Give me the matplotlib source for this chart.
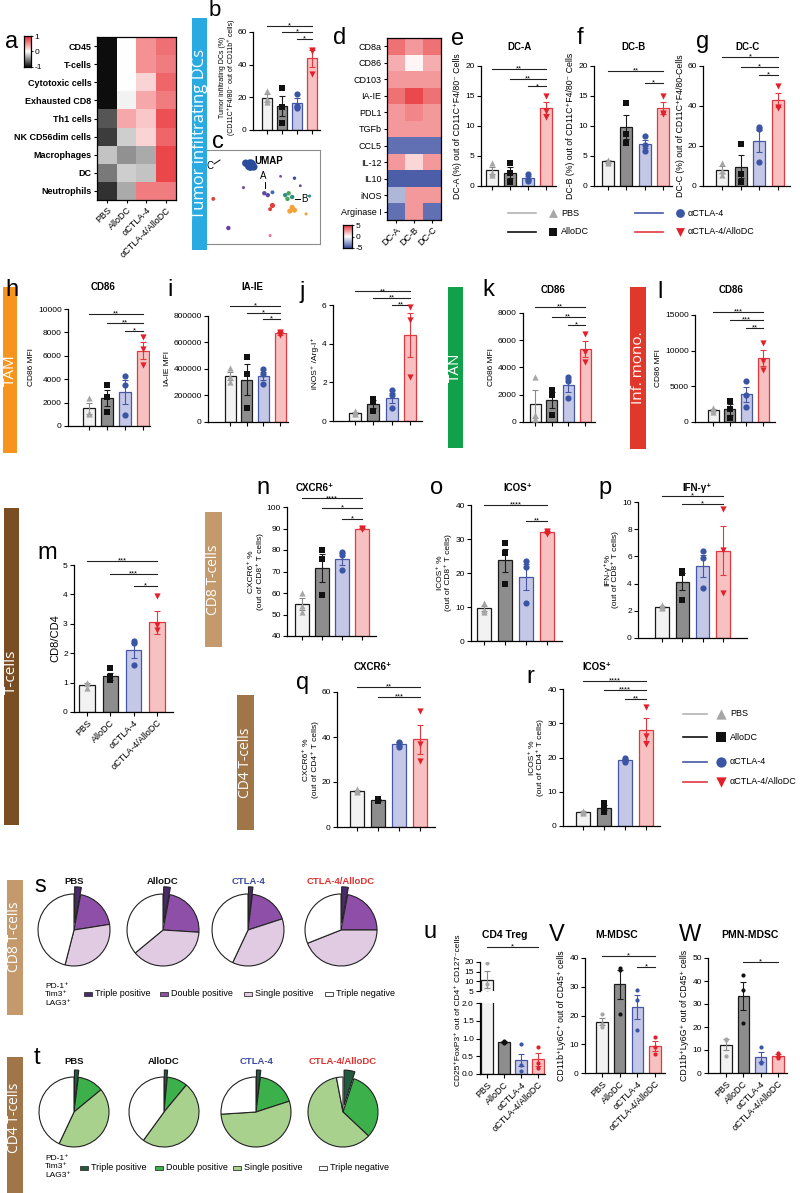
import numpy as np
import matplotlib
matplotlib.use("Agg")
import matplotlib.pyplot as plt
from matplotlib.patches import Rectangle
from matplotlib.colors import LinearSegmentedColormap

plt.rcParams['font.family'] = ['Liberation Sans', 'DejaVu Sans']
plt.rcParams['axes.linewidth'] = 0.9

# ======================= DATA =======================
GROUPS = ["PBS", "AlloDC", "αCTLA-4", "αCTLA-4/AlloDC"]

HEAT_A_ROWS = ["CD45", "T-cells", "Cytotoxic cells", "Exhausted CD8", "Th1 cells",
               "NK CD56dim cells", "Macrophages", "DC", "Neutrophils"]
HEAT_A = [[-1.0, 0.0, 0.5, 0.65],
          [-1.0, 0.0, 0.5, 0.6],
          [-1.0, 0.0, 0.2, 0.7],
          [-1.0, -0.05, 0.4, 0.6],
          [-0.7, 0.4, 0.25, 0.8],
          [-0.8, -0.2, 0.2, 0.7],
          [-0.25, -0.45, -0.35, 0.85],
          [-0.55, -0.2, -0.25, 0.85],
          [-0.85, -0.35, 0.6, 0.6]]

HEAT_D_ROWS = ["CD8a", "CD86", "CD103", "IA-IE", "PDL1", "TGFb", "CCL5", "IL-12",
               "IL10", "iNOS", "Arginase I"]
HEAT_D_COLS = ["DC-A", "DC-B", "DC-C"]
HEAT_D = [[3.5, 2.5, 3.5],
          [2.0, 0.2, 2.0],
          [2.5, 2.5, 2.5],
          [3.5, 4.5, 3.5],
          [2.5, 3.0, 2.5],
          [2.5, 2.5, 2.5],
          [-4.0, -4.0, -4.0],
          [2.5, 1.0, 2.5],
          [-4.5, -4.5, -4.5],
          [-2.0, 2.5, 2.5],
          [-4.0, 2.5, -4.0]]

UMAP_X = [4.0, 3.6, 4.3, 5.2, 5.5, 5.9, 5.9, 5.7, 7.0, 7.3, 7.6, 7.2, 7.6, 7.8, 7.4,
          7.8, 8.3, 6.6, 9.1, 8.8, 3.4, 0.8, 2.1, 5.7]
UMAP_Y = [8.4, 8.6, 8.2, 5.4, 5.2, 5.5, 4.1, 3.7, 5.2, 5.4, 5.0, 4.8, 3.9, 3.6, 3.5,
          7.0, 6.2, 7.2, 5.1, 3.2, 6.0, 4.8, 1.7, 0.9]
UMAP_S = [70, 28, 28, 10, 10, 8, 14, 8, 10, 10, 10, 10, 14, 14, 14,
          6, 4, 4, 5, 5, 5, 8, 10, 5]
UMAP_C = ["#2a4d9b", "#2a4d9b", "#2a4d9b", "#5b4aa0", "#5b4aa0", "#3b6fb5", "#e0403c",
          "#e0403c", "#2f8f83", "#4aa35a", "#2f8f83", "#4aa35a", "#f2a33a", "#f2a33a",
          "#f2a33a", "#3a4da0", "#5b4aa0", "#7a4aa8", "#2f8f83", "#f2a33a", "#7a4aa8",
          "#d9443c", "#6b3fa0", "#e07aa0"]

B_MEAN = [19.6, 14.7, 16.8, 43.8]
B_SEM = [2.2, 6.2, 2.6, 5.0]
B_PTS = [[24, 19, 17], [25.5, 14, 4.3], [22, 15, 13.5], [49, 48.5, 34]]
B_SIG = [(0, 3, 63.5, "*"), (1, 3, 60, "*"), (2, 3, 56, "*")]

E_MEAN = [2.6, 2.2, 1.3, 13.0]
E_SEM = [0.6, 0.9, 0.35, 1.0]
E_PTS = [[3.8, 2.2, 1.8], [3.9, 2.1, 0.7], [2.0, 1.2, 0.8], [15, 12.5, 11.5]]
E_SIG = [(0, 3, 19.5, "**"), (1, 3, 17.8, "**"), (2, 3, 16.6, "*")]

F_MEAN = [4.1, 9.9, 7.0, 13.0]
F_SEM = [0.2, 2.0, 0.7, 1.0]
F_PTS = [[4.4, 4.0, 3.8], [13.8, 8.7, 7.2], [8.3, 6.9, 5.9], [15, 12.2, 12]]
F_SIG = [(0, 3, 19.2, "**"), (2, 3, 17.2, "*")]

G_MEAN = [8.2, 9.7, 22.5, 42.8]
G_SEM = [1.8, 5.7, 5.5, 3.5]
G_PTS = [[11.5, 7.5, 5.5], [21, 6, 2], [29.5, 28.5, 12], [50, 39.5, 39]]
G_SIG = [(0, 3, 64.5, "*"), (1, 3, 59.5, "*"), (2, 3, 55.5, "*")]

H_MEAN = [1500, 2400, 2900, 6450]
H_SEM = [450, 650, 1000, 700]
H_PTS = [[2400, 1100, 1000], [3500, 2500, 1200], [4300, 3500, 950], [7600, 6550, 5200]]
H_SIG = [(0, 3, 9600, "**"), (1, 3, 8800, "**"), (2, 3, 8100, "*")]

I_MEAN = [350000, 320000, 350000, 668000]
I_SEM = [30000, 115000, 30000, 8000]
I_PTS = [[405000, 340000, 305000], [490000, 360000, 105000],
         [400000, 360000, 290000], [680000, 668000, 656000]]
I_SIG = [(0, 3, 875000, "*"), (1, 3, 823000, "*"), (2, 3, 777000, "*")]

J_MEAN = [0.42, 0.88, 1.2, 4.45]
J_SEM = [0.05, 0.2, 0.27, 1.15]
J_PTS = [[0.5, 0.4, 0.35], [1.15, 1.0, 0.5], [1.6, 1.35, 0.65], [5.9, 5.2, 2.3]]
J_SIG = [(0, 3, 6.7, "**"), (1, 3, 6.35, "**"), (2, 3, 6.0, "**")]

K_MEAN = [1330, 1610, 2680, 5350]
K_SEM = [1000, 560, 470, 600]
K_PTS = [[3300, 500, 200], [2350, 1980, 510], [3280, 3000, 1760], [6460, 5160, 4430]]
K_SIG = [(0, 3, 8450, "**"), (1, 3, 7700, "**"), (2, 3, 7100, "*")]

L_MEAN = [1700, 1780, 3870, 8960]
L_SEM = [180, 750, 1100, 1100]
L_PTS = [[2000, 1680, 1450], [3000, 1800, 500], [5750, 3790, 2060], [11030, 8550, 7290]]
L_SIG = [(0, 3, 15400, "***"), (1, 3, 14300, "***"), (2, 3, 13200, "**")]

M_MEAN = [0.93, 1.22, 2.1, 3.05]
M_SEM = [0.06, 0.12, 0.25, 0.4]
M_PTS = [[1.0, 1.0, 0.8], [1.5, 1.2, 1.1], [2.4, 2.35, 1.6], [3.95, 2.95, 2.8]]
M_SIG = [(0, 3, 5.15, "***"), (1, 3, 4.7, "***"), (2, 3, 4.3, "*")]

N_MEAN = [55.0, 71.6, 75.8, 90.0]
N_SEM = [2.7, 6.5, 2.6, 0.2]
N_PTS = [[60, 54, 51], [80, 76, 59], [79, 77.7, 70.7], [90.2, 90, 89.8]]
N_SIG = [(0, 3, 104, "****"), (1, 3, 99.5, "*"), (2, 3, 94.3, "*")]

O_MEAN = [9.6, 23.7, 18.9, 32.0]
O_SEM = [0.8, 3.5, 3.8, 0.3]
O_PTS = [[11.1, 9.1, 8.6], [28.7, 25.8, 16.7], [23.6, 21.7, 11.3], [32.4, 32, 31.5]]
O_SIG = [(0, 3, 40, "****"), (2, 3, 35.4, "**")]

P_MEAN = [2.3, 4.15, 5.3, 6.4]
P_SEM = [0.07, 0.65, 0.8, 1.8]
P_PTS = [[2.4, 2.3, 2.2], [4.9, 4.75, 2.8], [6.4, 5.9, 3.7], [9.5, 6.5, 3.3]]
P_SIG = [(0, 3, 10.45, "*"), (1, 3, 9.85, "*")]

Q_MEAN = [16.0, 12.0, 36.8, 39.0]
Q_SEM = [0.4, 0.25, 0.8, 6.4]
Q_PTS = [[17.0, 16.0, 15.5], [12.3, 12.0, 11.6], [38, 37, 35.5], [51.5, 37, 29.5]]
Q_SIG = [(0, 3, 62.2, "**"), (1, 3, 57.8, "***")]

R_MEAN = [4.2, 5.3, 19.3, 28.1]
R_SEM = [0.2, 0.7, 0.35, 3.3]
R_PTS = [[4.5, 4.2, 3.9], [6.6, 5.2, 4.2], [19.9, 19.3, 18.7], [34.7, 26.3, 24]]
R_SIG = [(0, 3, 42.4, "****"), (1, 3, 39.7, "****"), (2, 3, 37, "**")]

U_MEAN = [10.7, 0.9, 0.39, 0.41]
U_SEM = [4.4, 0.02, 0.16, 0.18]
U_PTS = [[19.3, 8.8, 4.0], [0.93, 0.9, 0.87], [0.85, 0.25, 0.08], [0.75, 0.3, 0.17]]
U_SIG = [(0, 3, 27.8, "*")]

V_MEAN = [17.8, 30.8, 23.1, 9.4]
V_SEM = [1.2, 5.1, 4.2, 1.7]
V_PTS = [[20.5, 17, 16], [36.4, 35.8, 20.4], [29, 25.3, 15], [12.4, 9.2, 6.6]]
V_SIG = [(0, 3, 40.7, "*"), (2, 3, 37, "*")]

W_MEAN = [12.2, 33.5, 6.9, 7.5]
W_SEM = [2.4, 6.1, 2.3, 0.6]
W_PTS = [[14.8, 14.4, 7.5], [42.6, 36.1, 21.9], [11.4, 4.9, 4.4], [8.6, 7.4, 6.4]]
W_SIG = [(1, 3, 48.4, "*")]

PIE_TITLES = ["PBS", "AlloDC", "CTLA-4", "CTLA-4/AlloDC"]
PIE_LABELS = ["Triple positive", "Double positive", "Single positive", "Triple negative"]
S_PBS = [3, 19.5, 31.5, 46]
S_ALLO = [3, 23, 38, 36]
S_CTLA = [2, 18, 37, 43]
S_COMBO = [3, 22, 44, 31]
T_PBS = [2, 12, 43, 43]
T_ALLO = [1.5, 9.5, 49, 40]
T_CTLA = [2, 18, 54, 26]
T_COMBO = [5, 32, 60, 3]

# ======================= STYLE =======================
FACE = ['#f2f2f2', '#8d8d8d', '#c4c7e6', '#f7c1c1']
EDGE = ['#1a1a1a', '#1a1a1a', '#4657a6', '#e2383f']
ERRC = ['#8a8a8a', '#1a1a1a', '#4657a6', '#e2383f']
PTC = ['#a6a6a6', '#111111', '#3b55a5', '#e3202a']
MARKS = ['^', 's', 'o', 'v']
S_COLORS = ['#4b2a6b', '#8e4fa8', '#e0cbe2', '#ffffff']
T_COLORS = ['#215a3c', '#3cb04a', '#a9d18e', '#ffffff']
TITLE_COLORS = ['#111111', '#111111', '#3d4ba0', '#e0302f']

W, H = 800, 1193
fig = plt.figure(figsize=(W / 100, H / 100), dpi=100)
fig.patch.set_facecolor('white')


def add_ax(x0, y0, x1, y1, **kw):
    return fig.add_axes([x0 / W, 1 - y1 / H, (x1 - x0) / W, (y1 - y0) / H], **kw)


ov = add_ax(0, 0, W, H, zorder=10)
ov.set_xlim(0, W)
ov.set_ylim(H, 0)
ov.axis('off')


def sidebar(x0, y0, x1, y1, color, label, fs=11, ty=None):
    ov.add_patch(Rectangle((x0, y0), x1 - x0, y1 - y0, color=color, lw=0))
    ov.text((x0 + x1) / 2, (y0 + y1) / 2 if ty is None else ty, label, rotation=90,
            ha='center', va='center', color='white', fontsize=fs,
            family=['Open Sans', 'DejaVu Sans'])


def letter(x, y, s, fs=17):
    ov.text(x, y, s, fontsize=fs, ha='center', va='center')


def title(x, y, s, fs=7):
    ov.text(x, y, s, fontsize=fs, fontweight='bold', ha='center', va='center')


def style_ax(ax):
    ax.spines[['top', 'right']].set_visible(False)
    ax.tick_params(labelsize=6, length=3, width=0.8, pad=1.5)


def bar_panel(axis_x, x_end, bar0, bar3, y_top, y_bot, ylim, yticks, mean, sem, pts, sig,
              marks=MARKS, msize=20, ylabel=None, xlabels=False, ytl=None, ylfs=6):
    s = (bar3 - bar0) / 3.0
    ax = add_ax(axis_x, y_top, x_end, y_bot)
    ax.set_xlim(-(bar0 - axis_x) / s, 3 + (x_end - bar3) / s)
    ax.set_ylim(*ylim)
    x = np.arange(4)
    ax.bar(x, mean, width=0.66, color=FACE, edgecolor=EDGE, linewidth=0.9, zorder=1)
    for i in range(4):
        ax.errorbar(i, mean[i], yerr=sem[i], fmt='none', ecolor=ERRC[i], elinewidth=0.8,
                    capsize=2.2, capthick=0.8, zorder=3)
        ax.scatter(np.full(len(pts[i]), i), pts[i], marker=marks[i], s=msize, color=PTC[i],
                   zorder=4, linewidths=0, clip_on=False)
    for (a, b, y, lab) in sig:
        ax.plot([a, b], [y, y], color='#222222', lw=0.8, clip_on=False)
        ax.text((a + b) / 2, y, lab, ha='center', va='center', fontsize=5.5, clip_on=False)
    style_ax(ax)
    ax.set_yticks(yticks)
    if ytl is not None:
        ax.set_yticklabels(ytl)
    ax.set_xticks(x)
    if xlabels:
        ax.set_xticklabels(GROUPS, rotation=45, ha='right', rotation_mode='anchor', fontsize=6.5)
    else:
        ax.set_xticklabels([])
    if ylabel:
        ax.set_ylabel(ylabel, fontsize=ylfs, labelpad=2, linespacing=1.1)
    return ax


# ======================= ROW 1 =======================
cmap_a = LinearSegmentedColormap.from_list('bwr_a', ['#0d0d0d', '#ffffff', '#e8262b'])
axa = add_ax(97, 37, 176, 200)
axa.imshow(np.array(HEAT_A), cmap=cmap_a, vmin=-1, vmax=1, aspect='auto', interpolation='nearest')
axa.set_yticks(range(len(HEAT_A_ROWS)))
axa.set_yticklabels(HEAT_A_ROWS, fontsize=6.5, fontweight='bold')
axa.set_xticks(range(4))
axa.set_xticklabels(GROUPS, rotation=45, ha='right', rotation_mode='anchor', fontsize=6.5)
axa.tick_params(length=2.5, width=0.8, pad=1.5)
cba = add_ax(24, 36, 31, 67)
cba.imshow(np.linspace(1, -1, 100)[:, None], cmap=cmap_a, vmin=-1, vmax=1, aspect='auto')
cba.set_xticks([])
cba.set_yticks([0, 49.5, 99])
cba.set_yticklabels(['1', '0', '-1'], fontsize=6)
cba.yaxis.tick_right()
cba.tick_params(length=1.5, width=0.6, pad=1)
letter(12, 42, 'a')

sidebar(192, 18, 207, 250, '#29abe2', 'Tumor infiltrating DCs', fs=12)

axb = bar_panel(253, 320, 267, 312, 32, 130, (0, 60), [0, 20, 40, 60], B_MEAN, B_SEM, B_PTS,
                B_SIG, ylabel="Tumor infiltrating DCs (%)\n(CD11C⁺F4/80⁻ out of CD11b⁺ cells)",
                ylfs=5.0)
axb.yaxis.label.set_y(0.54)
letter(215, 11, 'b', fs=16)

axc = add_ax(204, 150, 320, 244)
axc.scatter(UMAP_X, UMAP_Y, s=UMAP_S, c=UMAP_C, linewidths=0)
axc.set_xlim(0, 10)
axc.set_ylim(0, 10)
axc.set_xticks([])
axc.set_yticks([])
for sp in axc.spines.values():
    sp.set_color('#8c8c8c')
    sp.set_linewidth(0.8)
letter(218, 142, 'c')
ov.text(254, 161, 'UMAP', fontsize=7, fontweight='bold', va='center')
ov.text(210, 166, 'C', fontsize=7, ha='center', va='center')
ov.plot([214, 220], [164, 160], color='k', lw=0.7)
ov.text(263, 176, 'A', fontsize=7, ha='center', va='center')
ov.plot([265, 265], [182, 188], color='k', lw=0.7)
ov.text(304, 199, 'B', fontsize=7, ha='center', va='center')
ov.plot([295, 300], [199, 199], color='k', lw=0.7)

cmap_d = LinearSegmentedColormap.from_list('bwr_d', ['#3a4ea0', '#ffffff', '#e8353a'])
axd = add_ax(387, 38, 441, 220)
axd.imshow(np.array(HEAT_D), cmap=cmap_d, vmin=-5, vmax=5, aspect='auto', interpolation='nearest')
axd.set_yticks(range(len(HEAT_D_ROWS)))
axd.set_yticklabels(HEAT_D_ROWS, fontsize=6.5)
axd.set_xticks(range(3))
axd.set_xticklabels(HEAT_D_COLS, rotation=45, ha='right', rotation_mode='anchor', fontsize=6.5)
axd.tick_params(length=2.5, width=0.8, pad=1.5)
cbd = add_ax(343, 225, 352, 248)
cbd.imshow(np.linspace(5, -5, 100)[:, None], cmap=cmap_d, vmin=-5, vmax=5, aspect='auto')
cbd.set_xticks([])
cbd.set_yticks([0, 49.5, 99])
cbd.set_yticklabels(['5', '0', '-5'], fontsize=6)
cbd.yaxis.tick_right()
cbd.tick_params(length=1.5, width=0.6, pad=1)
letter(340, 38, 'd')

bar_panel(481, 556, 492, 546, 66, 186, (0, 20), [0, 5, 10, 15, 20], E_MEAN, E_SEM, E_PTS, E_SIG,
          ylabel="DC-A (%) out of CD11C⁺F4/80⁻ Cells", ylfs=6.3)
title(520, 47, 'DC-A')
letter(458, 39, 'e')
bar_panel(594, 672, 608, 663, 66, 186, (0, 20), [0, 5, 10, 15, 20], F_MEAN, F_SEM, F_PTS, F_SIG,
          ylabel="DC-B (%) out of CD11C⁺F4/80⁻ Cells", ylfs=6.3)
title(633, 47, 'DC-B')
letter(580, 38, 'f')
bar_panel(703, 790, 722, 778, 66, 186, (0, 60), [0, 20, 40, 60], G_MEAN, G_SEM, G_PTS, G_SIG,
          ylabel="DC-C (%) out of CD11C⁺F4/80-Cells", ylfs=6.3)
title(748, 47, 'DC-C')
letter(703, 42, 'g')

# top legend
LEG_LINE = ['#b3b3b3', '#111111', '#4657a6', '#e2383f']
for i, (lx, ly) in enumerate([(508, 213), (508, 232), (635, 213), (635, 232)]):
    ov.plot([lx, lx + 28], [ly, ly], color=LEG_LINE[i], lw=1.2)
    ov.scatter([lx + 45], [ly], marker=MARKS[i], s=40, color=PTC[i], linewidths=0)
    ov.text(lx + 53, ly, GROUPS[i], fontsize=6.5, va='center')

# ======================= ROW 2 =======================
sidebar(3, 287, 17, 453, '#f7941d', 'TAM', fs=11)
bar_panel(68, 150, 89, 143, 309, 426, (0, 10000), [0, 2000, 4000, 6000, 8000, 10000],
          H_MEAN, H_SEM, H_PTS, H_SIG, ylabel="CD86 MFI")
title(103, 287, 'CD86')
letter(12, 290, 'h')
bar_panel(208, 288, 230, 280, 316, 422, (0, 800000), [0, 200000, 400000, 600000, 800000],
          I_MEAN, I_SEM, I_PTS, I_SIG, ylabel="IA-IE MFI",
          ytl=['0', '200000', '400000', '600000', '800000'])
title(252, 287, 'IA-IE')
letter(170, 290, 'i')
bar_panel(333, 422, 355, 410, 305, 421, (0, 6), [0, 2, 4, 6], J_MEAN, J_SEM, J_PTS, J_SIG,
          ylabel="iNOS⁺ /Arg-I⁺")
letter(302, 292, 'j')

sidebar(448, 287, 463, 448, '#12a14b', 'TAN', fs=11)
bar_panel(523, 595, 535, 585, 313, 422, (0, 8000), [0, 2000, 4000, 6000, 8000],
          K_MEAN, K_SEM, K_PTS, K_SIG, ylabel="CD86 MFI")
title(553, 290, 'CD86')
letter(488, 290, 'k')

sidebar(630, 287, 646, 449, '#e0392b', 'Inf. mono.', fs=11)
bar_panel(695, 775, 713, 763, 315, 422, (0, 15000), [0, 5000, 10000, 15000],
          L_MEAN, L_SEM, L_PTS, L_SIG, ylabel="CD86 MFI")
title(731, 290, 'CD86')
letter(660, 292, 'l')

# ======================= ROW 3 =======================
sidebar(4, 508, 19, 825, '#7a4e22', 'T-cells', fs=11, ty=672)
bar_panel(74, 173, 87, 157, 565, 712, (0, 5), [0, 1, 2, 3, 4, 5], M_MEAN, M_SEM, M_PTS, M_SIG,
          ylabel="CD8/CD4", xlabels=True, ylfs=8)
letter(47, 553, 'm')

sidebar(205, 512, 222, 647, '#c49a6c', 'CD8 T-cells', fs=10)
bar_panel(287, 376, 302, 362, 507, 636, (40, 100), [40, 50, 60, 70, 80, 90, 100],
          N_MEAN, N_SEM, N_PTS, N_SIG, ylabel="CXCR6⁺ %\n(out of CD8⁺ T cells)")
title(315, 488, 'CXCR6⁺')
letter(263, 488, 'n')
bar_panel(471, 562, 484, 547, 505, 641, (0, 40), [0, 10, 20, 30, 40],
          O_MEAN, O_SEM, O_PTS, O_SIG, ylabel="ICOS⁺ %\n(out of CD8⁺ T cells)")
title(518, 488, 'ICOS⁺')
letter(437, 488, 'o')
bar_panel(638, 747, 662, 723, 502, 638, (0, 10), [0, 2, 4, 6, 8, 10],
          P_MEAN, P_SEM, P_PTS, P_SIG, ylabel="IFN-γ⁺%\n(out of CD8⁺ T cells)")
title(697, 488, 'IFN-γ⁺')
letter(605, 488, 'p')

sidebar(237, 695, 254, 830, '#a07548', 'CD4 T-cells', fs=10)
bar_panel(337, 435, 357, 420, 692, 827, (0, 60), [0, 20, 40, 60],
          Q_MEAN, Q_SEM, Q_PTS, Q_SIG, ylabel="CXCR6⁺ %\n(out of CD4⁺ T cells)")
title(373, 667, 'CXCR6⁺')
letter(303, 683, 'q')
bar_panel(563, 660, 583, 646, 689, 826, (0, 40), [0, 10, 20, 30, 40],
          R_MEAN, R_SEM, R_PTS, R_SIG, ylabel="ICOS⁺ %\n(out of CD4⁺ T cells)")
title(597, 667, 'ICOS⁺')
letter(530, 677, 'r')

for i, ly in enumerate([714, 737, 762, 782]):
    ov.plot([683, 707], [ly, ly], color=LEG_LINE[i], lw=1.2)
    ov.scatter([721], [ly], marker=MARKS[i], s=55, color=PTC[i], linewidths=0)
    ov.text(730, ly, GROUPS[i], fontsize=6.5, va='center')


# ======================= PIES =======================
def pie_panel(cx, cy, r, fracs, colors, ttl, tcol, ty):
    pad = 1.35
    ax = add_ax(cx - r * pad, cy - r * pad, cx + r * pad, cy + r * pad)
    ax.pie(fracs, colors=colors, startangle=90, counterclock=False,
           explode=[0.2, 0, 0, 0], radius=1,
           wedgeprops=dict(edgecolor='#222222', linewidth=0.8))
    ax.set_xlim(-pad, pad)
    ax.set_ylim(-pad, pad)
    ax.set_aspect('equal')
    ax.axis('off')
    ov.text(cx, ty, ttl, fontsize=6.8, fontweight='bold', color=tcol, ha='center', va='center')


def pie_legend(y, xs, colors, label_y):
    ov.text(45, label_y, "PD-1⁺\nTim3⁺\nLAG3⁺", fontsize=6, va='center', linespacing=1.25)
    for i, x in enumerate(xs):
        ov.add_patch(Rectangle((x, y - 2), 8, 4, facecolor=colors[i], edgecolor='#333333', lw=0.6))
        ov.text(x + 11, y, PIE_LABELS[i], fontsize=6.5, va='center')


sidebar(7, 880, 23, 1015, '#c49a6c', 'CD8 T-cells', fs=10, ty=937)
letter(40, 886, 's')
for cx, fr, tt, tc in zip([74, 163, 248, 341], [S_PBS, S_ALLO, S_CTLA, S_COMBO],
                          PIE_TITLES, TITLE_COLORS):
    pie_panel(cx, 930, 36, fr, S_COLORS, tt, tc, 882)
pie_legend(994, [84, 160, 244, 325], S_COLORS, 995)

sidebar(7, 1057, 23, 1193, '#a07548', 'CD4 T-cells', fs=10, ty=1118)
letter(37, 1058, 't')
for cx, fr, tt, tc in zip([74, 164, 256, 343], [T_PBS, T_ALLO, T_CTLA, T_COMBO],
                          PIE_TITLES, TITLE_COLORS):
    pie_panel(cx, 1112, 35, fr, T_COLORS, tt, tc, 1062)
pie_legend(1168, [80, 155, 233, 319], T_COLORS, 1167)

# ======================= u (broken axis) =======================
u_s = (538 - 487) / 3.0
u_xlim = (-(487 - 480) / u_s, 3 + (545 - 538) / u_s)
ut = add_ax(480, 962, 545, 991)
ub = add_ax(480, 1003, 545, 1074)
for ax, yl in [(ut, (5, 20)), (ub, (0, 2.0))]:
    ax.set_xlim(*u_xlim)
    ax.set_ylim(*yl)
    ax.bar(np.arange(4), U_MEAN, width=0.7, color=FACE, edgecolor=EDGE, linewidth=0.9, zorder=1)
    for i in range(4):
        ax.errorbar(i, U_MEAN[i], yerr=U_SEM[i], fmt='none', ecolor=ERRC[i], elinewidth=0.8,
                    capsize=2.2, capthick=0.8, zorder=3)
        ax.scatter(np.full(3, i), U_PTS[i], marker='o', s=9, color=PTC[i], zorder=4, linewidths=0)
    style_ax(ax)
ut.spines['bottom'].set_visible(False)
ut.set_xticks([])
ut.set_yticks([5, 10, 15, 20])
ub.set_yticks([0, 0.5, 1.0, 1.5, 2.0])
ub.set_yticklabels(['0.0', '0.5', '1.0', '1.5', '2.0'])
ub.set_xticks(range(4))
ub.set_xticklabels(GROUPS, rotation=45, ha='right', rotation_mode='anchor', fontsize=6.5)
for (a, b, y, lab) in U_SIG:
    ut.plot([a, b], [y, y], color='#222222', lw=0.8, clip_on=False)
    ut.text((a + b) / 2, y, lab, ha='center', va='center', fontsize=5.5, clip_on=False)
ov.text(458, 1010, "CD25⁺FoxP3⁺ out of CD4⁺ CD127⁻cells", rotation=90, fontsize=6,
        ha='center', va='center')
title(505, 935, 'CD4 Treg', fs=7.5)
letter(430, 932, 'u')

bar_panel(585, 665, 602, 655, 958, 1073, (0, 40), [0, 10, 20, 30, 40], V_MEAN, V_SEM, V_PTS,
          V_SIG, marks=['o'] * 4, msize=9, ylabel="CD11b⁺Ly6C⁺ out of CD45⁺ cells",
          xlabels=True, ylfs=6.3)
title(617, 935, 'M-MDSC', fs=7.5)
letter(557, 935, 'V')
bar_panel(708, 787, 726, 778, 958, 1073, (0, 50), [0, 10, 20, 30, 40, 50], W_MEAN, W_SEM, W_PTS,
          W_SIG, marks=['o'] * 4, msize=9, ylabel="CD11b⁺Ly6G⁺ out of CD45⁺ cells",
          xlabels=True, ylfs=6.3)
title(750, 935, 'PMN-MDSC', fs=7.5)
letter(690, 935, 'W')

fig.savefig('out.png', dpi=100, facecolor='white')
